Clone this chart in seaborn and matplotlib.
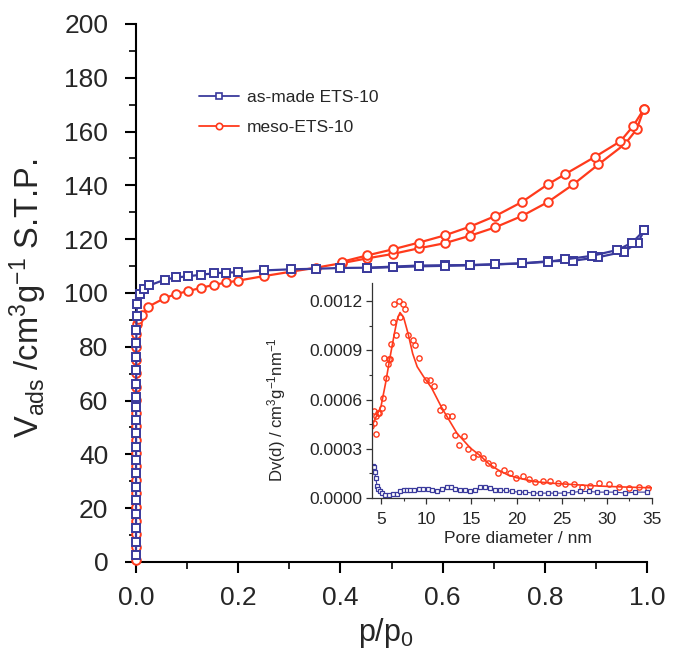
import matplotlib
matplotlib.use("Agg")
import matplotlib.pyplot as plt
from matplotlib.lines import Line2D
from matplotlib.ticker import MultipleLocator, FormatStrFormatter
import seaborn as sns

# ---- N2 isotherm, as-made ETS-10 (adsorption then desorption) ----
asmade_ads_p = [0.00002, 0.00003, 0.00004, 0.00005, 0.00006, 0.00008, 0.0001, 0.00012,
                0.00014, 0.00017, 0.0002, 0.00024, 0.00028, 0.00033, 0.0004, 0.0005,
                0.0006, 0.0008, 0.001, 0.002, 0.007, 0.016, 0.026, 0.057, 0.079, 0.102,
                0.127, 0.152, 0.176, 0.200, 0.251, 0.303, 0.352, 0.400, 0.453, 0.502,
                0.553, 0.604, 0.654, 0.703, 0.755, 0.806, 0.856, 0.905, 0.955, 0.982, 0.995]
asmade_ads_v = [2.6, 7.5, 12.6, 17.8, 23.0, 27.9, 33.1, 37.9, 42.9, 48.0, 52.8, 57.7,
                61.3, 66.2, 71.4, 76.3, 81.4, 86.2, 91.4, 96.0, 99.7, 101.6, 102.8, 105.0,
                105.8, 106.2, 106.8, 107.3, 107.6, 107.7, 108.4, 108.8, 109.0, 109.3,
                109.4, 109.8, 110.2, 110.3, 110.4, 110.7, 111.0, 111.8, 112.0, 113.3,
                115.4, 118.7, 123.4]
asmade_des_p = [0.995, 0.971, 0.942, 0.892, 0.840, 0.806, 0.755, 0.703, 0.654, 0.604,
                0.553, 0.502, 0.453]
asmade_des_v = [123.4, 118.7, 116.0, 113.8, 112.5, 111.6, 111.0, 110.6, 110.3, 110.1,
                109.9, 109.6, 109.3]

# ---- N2 isotherm, meso-ETS-10 ----
meso_ads_p = [0.00002, 0.00003, 0.00004, 0.00005, 0.00006, 0.00008, 0.0001, 0.00012,
              0.00014, 0.00017, 0.0002, 0.00024, 0.00028, 0.00033, 0.0004, 0.0005,
              0.0006, 0.0008, 0.002, 0.004, 0.011, 0.024, 0.055, 0.078, 0.102, 0.127,
              0.152, 0.177, 0.200, 0.251, 0.303, 0.352, 0.403, 0.453, 0.502, 0.553,
              0.604, 0.654, 0.703, 0.755, 0.806, 0.856, 0.905, 0.957, 0.980, 0.994]
meso_ads_v = [0.8, 5.5, 10.3, 15.4, 20.5, 25.6, 30.4, 35.5, 40.6, 45.4, 50.5, 55.3,
              60.2, 65.1, 70.2, 75.0, 80.1, 84.9, 88.4, 90.2, 91.8, 94.9, 98.0, 99.6,
              100.7, 101.9, 103.0, 103.9, 104.6, 106.3, 107.9, 109.4, 111.1, 112.9,
              114.5, 116.6, 118.5, 121.3, 124.4, 128.6, 133.8, 140.4, 147.8, 155.4,
              160.9, 168.4]
meso_des_p = [0.994, 0.973, 0.948, 0.899, 0.840, 0.806, 0.755, 0.703, 0.654, 0.604,
              0.553, 0.502, 0.453, 0.403]
meso_des_v = [168.4, 162.1, 156.4, 150.7, 144.2, 140.4, 133.8, 128.6, 124.7, 121.4,
              118.7, 116.2, 114.0, 111.6]

# ---- pore size distribution (inset) ----
psd_meso_d = [3.93, 4.19, 4.26, 4.41, 4.48, 4.67, 4.82, 5.11, 5.22, 5.30, 5.55, 5.74,
              5.85, 5.96, 6.10, 6.29, 6.48, 6.70, 6.96, 7.14, 7.40, 7.69, 7.95, 8.50,
              8.80, 9.20, 10.00, 10.46, 10.83, 11.50, 11.86, 12.30, 12.86, 13.23, 13.67,
              14.15, 14.63, 15.15, 15.70, 16.25, 16.80, 17.36, 17.90, 18.58, 19.30,
              19.94, 20.68, 21.35, 22.08, 22.90, 23.75, 24.56, 25.40, 26.33, 27.25,
              28.17, 29.17, 30.20, 31.30, 32.40, 33.50, 34.60]
psd_meso_v = [4.41, 4.55, 5.32, 3.91, 5.02, 5.16, 5.20, 5.50, 6.07, 8.54, 7.33, 8.14,
              8.50, 8.48, 9.41, 10.70, 11.80, 9.92, 12.00, 11.00, 11.80, 11.50, 9.92,
              9.60, 9.30, 8.56, 7.18, 7.18, 6.82, 5.36, 5.57, 5.00, 5.00, 3.85, 3.24,
              3.78, 2.98, 2.49, 2.69, 2.43, 2.13, 2.02, 1.52, 1.68, 1.52, 1.25, 1.32,
              1.17, 0.99, 1.01, 1.01, 0.91, 0.85, 0.85, 0.67, 0.73, 0.89, 0.85, 0.67,
              0.61, 0.67, 0.61]
psd_fit_d = [4.0, 4.5, 5.0, 5.5, 6.0, 6.5, 6.8, 7.1, 7.5, 8.0, 8.5, 9.0, 9.7, 10.6,
             11.75, 13.4, 14.9, 16.0, 17.0, 18.0, 19.0, 20.0, 22.0, 24.0, 26.0, 28.0,
             30.0, 32.0, 35.0]
psd_fit_v = [4.4, 5.0, 5.6, 7.0, 8.6, 10.1, 10.9, 11.3, 11.0, 10.0, 8.8, 8.0, 7.4, 6.7,
             5.47, 3.95, 3.04, 2.57, 2.05, 1.70, 1.42, 1.24, 1.00, 0.90, 0.83, 0.76,
             0.71, 0.67, 0.62]
psd_asmade_d = [3.89, 4.08, 4.19, 4.30, 4.41, 4.56, 4.67, 4.85, 5.11, 5.40, 5.85, 6.29,
                6.77, 7.14, 7.50, 7.88, 8.25, 8.69, 9.17, 9.65, 10.17, 10.65, 11.20,
                11.75, 12.30, 12.79, 13.23, 13.78, 14.34, 14.89, 15.44, 16.00, 16.55,
                17.10, 17.66, 18.20, 18.84, 19.50, 20.24, 20.98, 21.80, 22.64, 23.45,
                24.30, 25.20, 26.14, 27.07, 27.99, 28.90, 29.90, 30.94, 32.05, 33.15, 34.45]
psd_asmade_v = [1.82, 1.96, 1.92, 1.56, 1.21, 0.75, 0.55, 0.40, 0.30, 0.20, 0.20, 0.24,
                0.24, 0.40, 0.51, 0.47, 0.51, 0.47, 0.55, 0.55, 0.55, 0.51, 0.40, 0.55,
                0.67, 0.67, 0.55, 0.47, 0.47, 0.40, 0.47, 0.67, 0.67, 0.61, 0.51, 0.47,
                0.47, 0.40, 0.36, 0.36, 0.30, 0.30, 0.30, 0.30, 0.30, 0.34, 0.40, 0.40,
                0.36, 0.36, 0.36, 0.30, 0.36, 0.36]
PSD_UNIT = 1e-4

series_labels = ["as-made ETS-10", "meso-ETS-10"]
BLUE = "#3a3a9c"
RED = "#ff3a1c"

sns.set_style("ticks")
plt.rcParams["font.family"] = ["Liberation Sans", "DejaVu Sans"]
plt.rcParams["mathtext.fontset"] = "custom"
plt.rcParams["mathtext.rm"] = "Liberation Sans"
plt.rcParams["mathtext.it"] = "Liberation Sans:italic"
plt.rcParams["mathtext.bf"] = "Liberation Sans:bold"

fig = plt.figure(figsize=(6.81, 6.5), dpi=100)
ax = fig.add_axes([0.1997, 0.1354, 0.7504, 0.8277])

main_style = dict(sort=False, estimator=None, ax=ax, linewidth=1.6, clip_on=False,
                  markerfacecolor="white", markeredgewidth=1.4, legend=False)
for p, v in [(meso_ads_p, meso_ads_v), (meso_des_p, meso_des_v)]:
    sns.lineplot(x=p, y=v, color=RED, marker="o", markersize=6.2,
                 markeredgecolor=RED, **main_style)
for p, v in [(asmade_ads_p, asmade_ads_v), (asmade_des_p, asmade_des_v)]:
    sns.lineplot(x=p, y=v, color=BLUE, marker="s", markersize=5.4,
                 markeredgecolor=BLUE, **main_style)

ax.set_xlim(0, 1.0)
ax.set_ylim(0, 200)
ax.xaxis.set_major_locator(MultipleLocator(0.2))
ax.xaxis.set_minor_locator(MultipleLocator(0.1))
ax.xaxis.set_major_formatter(FormatStrFormatter("%.1f"))
ax.yaxis.set_major_locator(MultipleLocator(20))
ax.yaxis.set_minor_locator(MultipleLocator(10))
for s in ["top", "right"]:
    ax.spines[s].set_visible(False)
for s in ["left", "bottom"]:
    ax.spines[s].set_linewidth(1.5)
    ax.spines[s].set_color("black")
    ax.spines[s].set_zorder(1)
ax.tick_params(which="major", length=8, width=1.5, direction="out", labelsize=19, color="black")
ax.tick_params(which="minor", length=5, width=1.2, direction="out", color="black")
ax.tick_params(axis="x", which="major", pad=9)
ax.tick_params(axis="y", which="major", pad=12)
ax.set_xlabel(r"p/p$_0$", fontsize=22)
ax.set_ylabel(r"V$_{\rm ads}$ /cm$^3$g$^{-1}$ S.T.P.", fontsize=23.5)
ax.xaxis.set_label_coords(0.49, -0.1)
ax.yaxis.set_label_coords(-0.17, 0.49)

handles = [
    Line2D([], [], color=BLUE, marker="s", markersize=4.2, markerfacecolor="white",
           markeredgecolor=BLUE, markeredgewidth=1.2, linewidth=1.3),
    Line2D([], [], color=RED, marker="o", markersize=4.6, markerfacecolor="white",
           markeredgecolor=RED, markeredgewidth=1.2, linewidth=1.3),
]
ax.legend(handles=handles, labels=series_labels, loc="upper left",
          bbox_to_anchor=(0.123, 0.877), frameon=False, fontsize=12.5,
          handlelength=2.3, handletextpad=0.45, labelspacing=0.85,
          borderpad=0, borderaxespad=0)

# ---- inset: pore size distribution ----
axin = fig.add_axes([0.5463, 0.2338, 0.4112, 0.3308])
axin.set_facecolor("none")
sns.lineplot(x=psd_fit_d, y=[v * PSD_UNIT for v in psd_fit_v], sort=False,
             estimator=None, ax=axin, color=RED, linewidth=1.2, legend=False)
sns.lineplot(x=psd_meso_d, y=[v * PSD_UNIT for v in psd_meso_v], sort=False,
             estimator=None, ax=axin, color=RED, linewidth=0, marker="o",
             markersize=3.8, markerfacecolor="none", markeredgecolor=RED,
             markeredgewidth=1.0, legend=False)
sns.lineplot(x=psd_asmade_d, y=[v * PSD_UNIT for v in psd_asmade_v], sort=False,
             estimator=None, ax=axin, color=BLUE, linewidth=0.8, marker="s",
             markersize=3.4, markerfacecolor="white", markeredgecolor=BLUE,
             markeredgewidth=0.9, legend=False)

axin.set_xlim(4.0, 35.0)
axin.set_ylim(0, 0.00131)
axin.xaxis.set_major_locator(MultipleLocator(5))
axin.xaxis.set_minor_locator(MultipleLocator(2.5))
axin.yaxis.set_major_locator(MultipleLocator(0.0003))
axin.yaxis.set_minor_locator(MultipleLocator(0.00015))
axin.yaxis.set_major_formatter(FormatStrFormatter("%.4f"))
for s in ["top", "right"]:
    axin.spines[s].set_visible(False)
for s in ["left", "bottom"]:
    axin.spines[s].set_linewidth(0.9)
    axin.spines[s].set_color("#333333")
axin.tick_params(which="major", length=4, width=0.9, direction="out", labelsize=12.5,
                 color="#333333")
axin.tick_params(which="minor", length=2.5, width=0.8, direction="out", color="#333333")
axin.tick_params(axis="y", which="major", pad=3)
axin.tick_params(axis="x", which="major", pad=6)
axin.set_xlabel("Pore diameter / nm", fontsize=12.5)
axin.set_ylabel(r"Dv(d) / cm$^3$g$^{-1}$nm$^{-1}$", fontsize=12)
axin.xaxis.set_label_coords(0.52, -0.155)
axin.yaxis.set_label_coords(-0.30, 0.41)

fig.savefig("out.png", dpi=100, facecolor="white")
